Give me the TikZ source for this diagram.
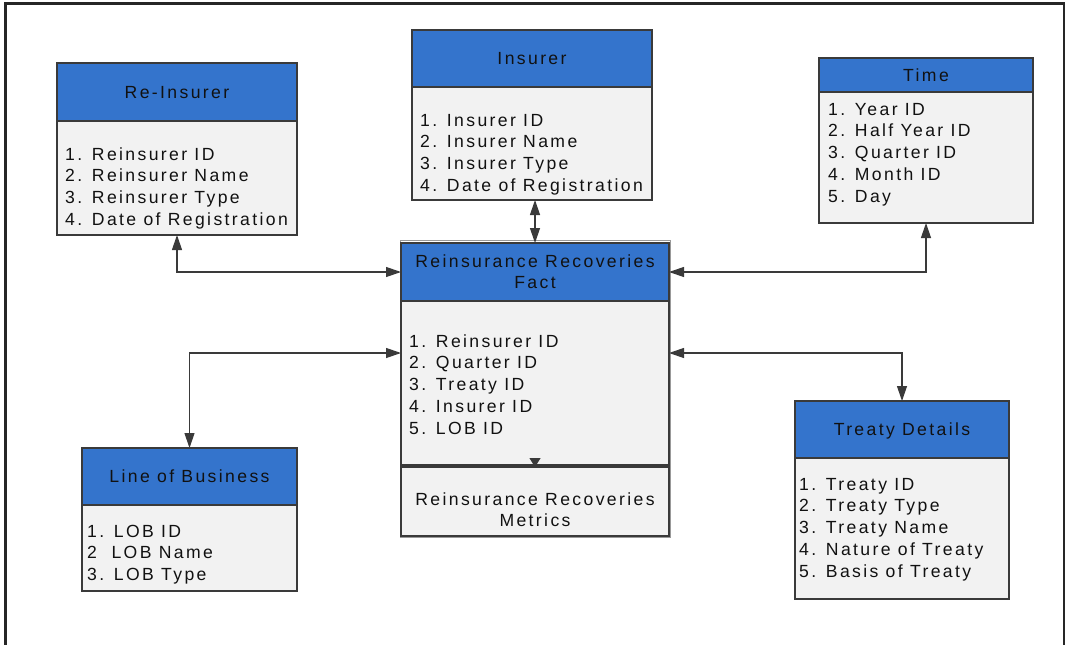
\documentclass[tikz,border=0pt]{standalone}
\usepackage{fontspec}
\setmainfont{Liberation Sans}[LetterSpace=13.5]
\usetikzlibrary{arrows.meta,calc}
\definecolor{hdrblue}{HTML}{3474CC}
\definecolor{bodygray}{HTML}{F2F2F2}
\definecolor{edge}{HTML}{3A3A3A}
\definecolor{ink}{HTML}{111111}
% one attribute list: #1 name prefix, #2 x, #3 first baseline, #4 entries
\newcommand\attrlist[4]{%
  \foreach \t [count=\i] in {#4}
    \node[itm] (#1-\i) at (#2, {#3+21.9*(\i-1)}) {\t};}
\begin{document}
\begin{tikzpicture}[x=1pt,y=-1pt,
  box/.style={draw=edge, line width=1.2pt, anchor=north west, inner sep=0pt, outer sep=0pt},
  hdr/.style={box, fill=hdrblue, text=ink, font=\fontsize{17.6}{21}\selectfont, align=center},
  hdrone/.style={hdr, text height=12.6pt, text depth=0pt},
  bdy/.style={box, fill=bodygray},
  itm/.style={anchor=base west, inner sep=0pt, text=ink, font=\fontsize{17.6}{21.9}\selectfont},
  link/.style={draw=edge, line width=1.2pt, >={Triangle[length=15pt,width=10pt]}, <->}
]
\useasboundingbox (0,0) rectangle (1068,645);
\begin{scope}
\clip (0,0) rectangle (1068,645);
\draw[line width=2.7pt, draw=black!85] (5.5,3.7) rectangle (1064,700);
\end{scope}

% Re-Insurer
\node[hdrone, minimum width=240pt, minimum height=58pt] (ri-h) at (57,63) {Re-Insurer};
\node[bdy, minimum width=240pt, minimum height=114pt] (ri-b) at (57,121) {};
\attrlist{ri}{65}{160}{1. Reinsurer ID, 2. Reinsurer Name, 3. Reinsurer Type, 4. Date of Registration}

% Insurer
\node[hdrone, minimum width=240pt, minimum height=57pt] (in-h) at (412,30) {Insurer};
\node[bdy, minimum width=240pt, minimum height=113pt] (in-b) at (412,87) {};
\attrlist{in}{420}{126}{1. Insurer ID, 2. Insurer Name, 3. Insurer Type, 4. Date of Registration}

% Time
\node[hdrone, minimum width=214pt, minimum height=34pt] (tm-h) at (819,58) {Time};
\node[bdy, minimum width=214pt, minimum height=131pt] (tm-b) at (819,92) {};
\attrlist{tm}{828}{115}{1. Year ID, 2. Half Year ID, 3. Quarter ID, 4. Month ID, 5. Day}

% Fact table with its metrics
\node[box, draw=black!40, line width=1pt, minimum width=270pt, minimum height=297pt] (fact-grp) at (400,240.5) {};
\node[hdr, minimum width=268pt, minimum height=58pt] (fact-h) at (401,243) {Reinsurance Recoveries\\Fact};
\node[bdy, minimum width=268pt, minimum height=164pt] (fact-b) at (401,301) {};
\attrlist{fact}{409}{347}{1. Reinsurer ID, 2. Quarter ID, 3. Treaty ID, 4. Insurer ID, 5. LOB ID}
\node[bdy, minimum width=268pt, minimum height=69pt] (met) at (401,467) {};
\node[text=ink, font=\fontsize{17.6}{21}\selectfont, align=center, inner sep=0pt] (met-t) at (535,510) {Reinsurance Recoveries\\Metrics};

% Line of Business
\node[hdrone, minimum width=215pt, minimum height=57pt] (lob-h) at (82,448) {Line of Business};
\node[bdy, minimum width=215pt, minimum height=86pt] (lob-b) at (82,505) {};
\attrlist{lob}{87}{537}{1. LOB ID, 2\phantom{.}\hspace{2.4pt} LOB Name, 3. LOB Type}

% Treaty Details
\node[hdrone, minimum width=214pt, minimum height=57pt] (td-h) at (795,401) {Treaty Details};
\node[bdy, minimum width=214pt, minimum height=141pt] (td-b) at (795,458) {};
\attrlist{td}{799}{490}{1. Treaty ID, 2. Treaty Type, 3. Treaty Name, 4. Nature of Treaty, 5. Basis of Treaty}

% connectors
\coordinate (fact-l) at ($(fact-b.north west)+(0,52)$);
\coordinate (fact-r) at ($(fact-b.north east)+(0,52)$);
\draw[link] (ri-b.south) |- (fact-h.west);
\draw[link] (tm-b.south) |- (fact-h.east);
\draw[link] (in-b.south -| fact-h.north) -- (fact-h.north);
\draw[link] (lob-h.north) |- (fact-l);
\draw[link] (fact-r) -| (td-h.north);
\draw[draw=edge, line width=1.2pt, -{Triangle[length=9pt,width=11pt]}] (fact-b.south) -- (met.north);
\end{tikzpicture}
\end{document}
